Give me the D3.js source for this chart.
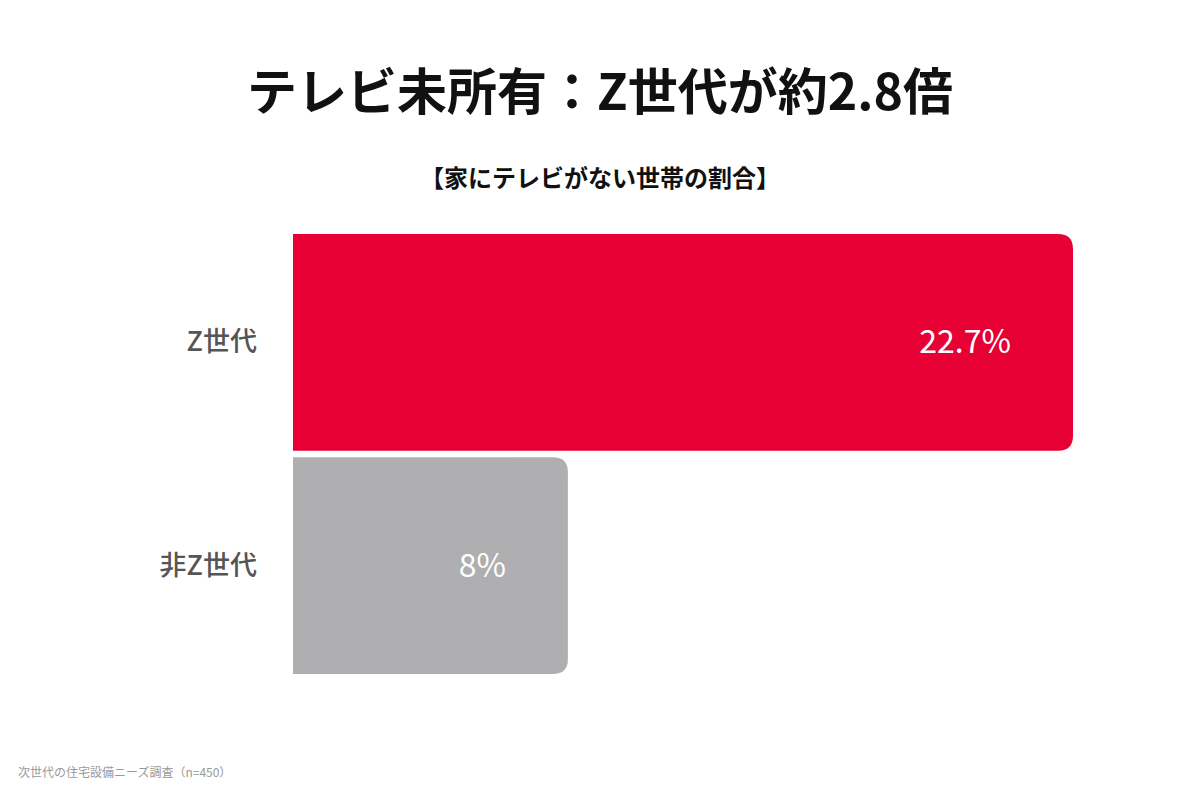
<!DOCTYPE html>
<html><head><meta charset="utf-8">
<script src="https://cdn.jsdelivr.net/npm/d3@7"></script>
<style>body{margin:0;background:#fff}svg{display:block;font-family:"Noto Sans CJK JP","Noto Sans",sans-serif}</style>
</head><body><svg width="1200" height="800"></svg>
<script>
// data
const categories = ['Z世代', '非Z世代'];
const values = [22.7, 8];
const valueLabels = ['22.7%', '8%'];
const barColors = ['#e60033', '#afaeb0'];

const svg = d3.select('svg');
const x = d3.scaleLinear().domain([0, 22.7]).range([293, 1073]);
const y = d3.scaleBand().domain(categories).range([234, 674]).paddingInner(0.03);
const r = 15;

svg.append('text').attr('x', 600).attr('y', 110).attr('text-anchor', 'middle')
  .attr('font-size', 50).attr('font-weight', 700).attr('fill', '#111')
  .text('テレビ未所有：Z世代が約2.8倍');
svg.append('text').attr('x', 600).attr('y', 187).attr('text-anchor', 'middle')
  .attr('font-size', 24).attr('font-weight', 700).attr('fill', '#111')
  .text('【家にテレビがない世帯の割合】');

function barPath(x0, x1, y0, h) {
  return `M${x0},${y0}H${x1 - r}Q${x1},${y0} ${x1},${y0 + r}V${y0 + h - r}Q${x1},${y0 + h} ${x1 - r},${y0 + h}H${x0}Z`;
}

const g = svg.selectAll('g.bar').data(categories).join('g').attr('class', 'bar');
g.append('path')
  .attr('d', (d, i) => barPath(x(0), x(values[i]), y(d), y.bandwidth()))
  .attr('fill', (d, i) => barColors[i]);
g.append('text')
  .attr('x', (d, i) => x(values[i]) - 62)
  .attr('y', d => y(d) + y.bandwidth() / 2 + 11)
  .attr('text-anchor', 'end').attr('font-size', 32).attr('fill', '#fff')
  .text((d, i) => valueLabels[i]);
g.append('text')
  .attr('x', 257)
  .attr('y', d => y(d) + y.bandwidth() / 2 + 9)
  .attr('text-anchor', 'end').attr('font-size', 27).attr('font-weight', 500).attr('fill', '#555')
  .text(d => d);

svg.append('text').attr('x', 18).attr('y', 777).attr('font-size', 12).attr('fill', '#999')
  .text('次世代の住宅設備ニーズ調査（n=450）');
</script></body></html>
